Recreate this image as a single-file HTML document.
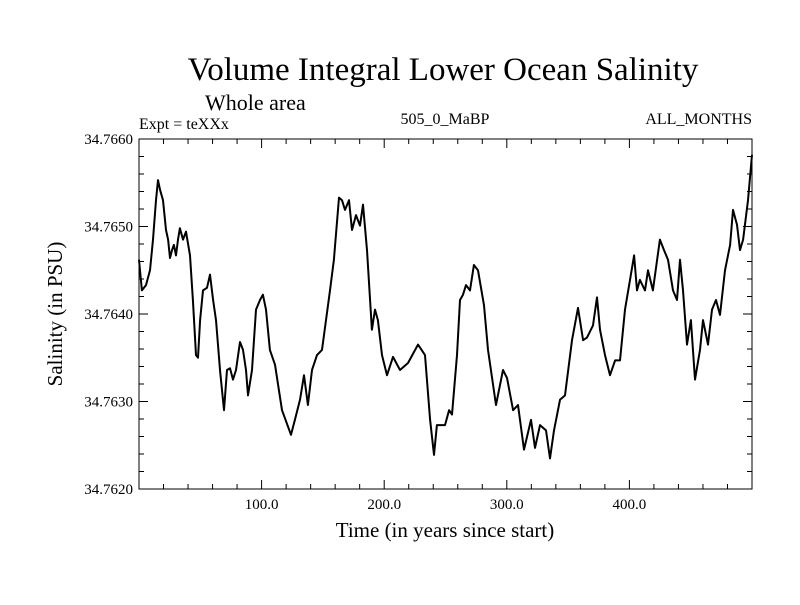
<!DOCTYPE html>
<html><head><meta charset="utf-8"><style>
body{margin:0;background:#fff}
svg text{font-family:"Liberation Serif",serif;fill:#000}
</style></head><body>
<svg id="chart" width="800" height="600" xmlns="http://www.w3.org/2000/svg">
<text x="443" y="80" font-size="33" text-anchor="middle">Volume Integral Lower Ocean Salinity</text>
<text x="205" y="110" font-size="22">Whole area</text>
<text x="139" y="129" font-size="16">Expt = teXXx</text>
<text x="445" y="124" font-size="16" text-anchor="middle">505_0_MaBP</text>
<text x="752" y="124" font-size="16" text-anchor="end">ALL_MONTHS</text>
<text x="445" y="537" font-size="21" text-anchor="middle">Time (in years since start)</text>
<text x="0" y="0" font-size="21" text-anchor="middle" transform="translate(62,314) rotate(-90)">Salinity (in PSU)</text>
<g id="axes"></g>
<rect x="139" y="139" width="613" height="350" fill="none" stroke="#000" stroke-width="1"/>
</svg>
<script>
const years=[0,2.4,5.7,9,11.4,13.9,15.5,17.1,19.6,22,23.7,25.3,26.9,28.5,30.2,31.8,33.4,35.9,38.3,41.6,44,46.5,48.1,49.8,52.2,55.5,57.9,60.4,62.8,66.1,69.3,71.8,74.2,76.7,79.1,82.4,84.8,87.3,88.9,92.2,95.4,98.7,101.1,103.6,106.8,110.9,116.6,124,127.2,131.3,134.6,137.8,141.1,145.2,149.3,152.5,155.8,159,163.1,165.6,168,171.3,173.7,177,180.3,182.7,186,190,192.5,194.9,198.2,202.3,207.2,212.9,219.4,227.6,233.3,237.4,240.6,243,249.6,252.9,255.3,259.4,261.8,264.3,266.7,270,273.2,276.5,281.4,284.7,291.2,296.9,300.2,305.1,309.1,314,319.7,323,327.1,332,335.2,338.5,343.4,347.5,353.2,358.1,362.2,365.4,370.3,373.6,376,380.1,384.2,388.3,392.3,396.4,400.5,403.8,406.2,408.6,412.7,415.2,419.2,424.9,428.2,431.5,435.6,438.8,441.3,443.7,447,450.2,453.5,457.6,460,464.1,467.4,470.6,473.9,478,482.1,484.5,487.8,490.2,492.7,496.7,500];
const salinity=[34.76462,34.76427,34.76433,34.7645,34.76485,34.7653,34.76553,34.76542,34.7653,34.76496,34.76485,34.76464,34.76473,34.76479,34.76467,34.76485,34.76498,34.76485,34.76494,34.76467,34.76416,34.76353,34.7635,34.76393,34.76427,34.7643,34.76445,34.76416,34.76393,34.76336,34.7629,34.76336,34.76338,34.76325,34.76336,34.76368,34.76359,34.76336,34.76307,34.76336,34.76405,34.76416,34.76422,34.76405,34.76359,34.76342,34.7629,34.76262,34.76279,34.76302,34.7633,34.76296,34.76336,34.76353,34.76359,34.76393,34.76427,34.76462,34.76533,34.7653,34.76519,34.7653,34.76496,34.76513,34.76501,34.76525,34.76473,34.76382,34.76405,34.76393,34.76353,34.7633,34.76351,34.76336,34.76344,34.76365,34.76353,34.76279,34.76239,34.76273,34.76273,34.7629,34.76285,34.76353,34.76416,34.76422,34.76433,34.76427,34.76456,34.7645,34.7641,34.76359,34.76296,34.76336,34.76327,34.7629,34.76296,34.76245,34.76279,34.76247,34.76273,34.76267,34.76235,34.76267,34.76302,34.76307,34.7637,34.76407,34.7637,34.76373,34.76387,34.76419,34.76382,34.76353,34.7633,34.76347,34.76347,34.76405,34.76439,34.76467,34.76427,34.76439,34.76427,34.7645,34.76427,34.76485,34.76473,34.76462,34.76427,34.76416,34.76462,34.76427,34.76365,34.76393,34.76325,34.76359,34.76393,34.76365,34.76405,34.76416,34.76399,34.7645,34.76479,34.76519,34.76502,34.76473,34.76485,34.7653,34.76582];
const xTickLabels=["100.0","200.0","300.0","400.0"];
const xTickValues=[100,200,300,400];
const yTickLabels=["34.7620","34.7630","34.7640","34.7650","34.7660"];
const yTickValues=[34.762,34.763,34.764,34.765,34.766];
const X0=139,X1=752,Y0=489,Y1=139,xmin=0,xmax=500,ymin=34.762,ymax=34.766;
const sx=v=>X0+(v-xmin)/(xmax-xmin)*(X1-X0);
const sy=v=>Y0-(v-ymin)/(ymax-ymin)*(Y0-Y1);
const NS="http://www.w3.org/2000/svg";
const svg=document.getElementById('chart');
const g=document.getElementById('axes');
function ln(x1,y1,x2,y2,name){const l=document.createElementNS(NS,'line');
l.setAttribute('x1',x1);l.setAttribute('y1',y1);l.setAttribute('x2',x2);l.setAttribute('y2',y2);
l.setAttribute('stroke','#000');l.setAttribute('stroke-width','1');


g.appendChild(l);}
for(let v=20;v<500;v+=20){const x=sx(v);const major=v%100===0;const L=major?9:5;
ln(x,Y0,x,Y0-L,'x-tick');ln(x,Y1,x,Y1+L,'x-tick-top');}
for(let i=1;i<20;i++){const v=ymin+i*0.0002;const y=sy(v);const major=i%5===0;const L=major?9:5;
ln(X0,y,X0+L,y,'y-tick');ln(X1,y,X1-L,y,'y-tick-right');}
xTickLabels.forEach((t,i)=>{const e=document.createElementNS(NS,'text');
e.setAttribute('x',sx(xTickValues[i]));e.setAttribute('y',509);e.setAttribute('font-size','15');e.setAttribute('text-anchor','middle');


e.textContent=t;svg.appendChild(e);});
yTickLabels.forEach((t,i)=>{const e=document.createElementNS(NS,'text');
e.setAttribute('x',133);e.setAttribute('y',sy(yTickValues[i])+5);e.setAttribute('font-size','15');e.setAttribute('text-anchor','end');


e.textContent=t;svg.appendChild(e);});
const p=document.createElementNS(NS,'path');
p.setAttribute('d',years.map((y,i)=>(i?'L':'M')+sx(y).toFixed(1)+','+sy(salinity[i]).toFixed(1)).join(''));
p.setAttribute('fill','none');p.setAttribute('stroke','#000');p.setAttribute('stroke-width','2');p.setAttribute('stroke-linejoin','round');


svg.appendChild(p);
</script>
</body></html>
